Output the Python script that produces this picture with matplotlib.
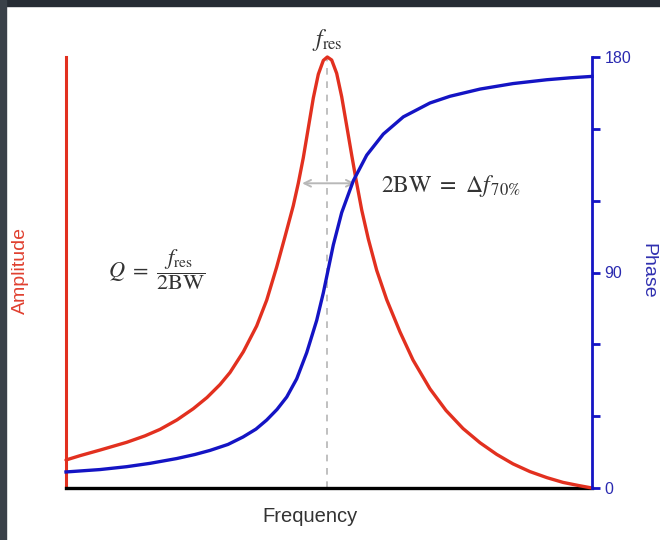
import matplotlib
matplotlib.use("Agg")
import matplotlib.pyplot as plt
from matplotlib.patches import Rectangle

plt.rcParams['font.family'] = ['Liberation Sans', 'DejaVu Sans']
plt.rcParams['mathtext.fontset'] = 'stix'

# Amplitude curve (normalised frequency 0..100, amplitude 0..1)
amp_freq = [0.0, 2.66, 6.46, 11.54, 15.02, 17.87, 21.10, 24.20, 26.81, 29.28, 31.18,
            33.71, 36.25, 38.16, 40.06, 41.63, 43.21, 44.16, 45.11, 46.06, 47.02,
            47.97, 48.92, 49.68, 50.51, 51.46, 52.41, 53.37, 54.32, 55.13, 56.22,
            57.47, 59.07, 60.97, 63.50, 65.97, 69.20, 72.24, 75.48, 78.71, 81.88,
            84.98, 88.21, 91.44, 94.49, 97.34, 100.0]
amp_vals = [0.065, 0.075, 0.088, 0.106, 0.121, 0.136, 0.158, 0.184, 0.210, 0.240, 0.268,
            0.316, 0.376, 0.436, 0.513, 0.583, 0.655, 0.707, 0.766, 0.835, 0.905,
            0.960, 0.992, 1.000, 0.993, 0.962, 0.908, 0.840, 0.772, 0.716, 0.645,
            0.578, 0.505, 0.437, 0.362, 0.297, 0.230, 0.180, 0.138, 0.105, 0.078,
            0.056, 0.038, 0.024, 0.013, 0.006, 0.0]

# Phase curve (degrees)
ph_freq = [0.0, 6.46, 11.54, 15.97, 21.05, 24.52, 27.38, 30.80, 33.65, 36.12, 38.16,
           40.11, 41.96, 43.86, 45.76, 47.66, 48.92, 49.68, 50.82, 52.41, 54.62,
           57.17, 60.32, 64.13, 69.20, 73.00, 78.71, 84.98, 91.39, 95.82, 100.0]
ph_vals = [6.7, 7.7, 8.9, 10.3, 12.3, 14.0, 15.7, 18.2, 21.3, 24.6, 28.4,
           32.8, 38.0, 45.6, 56.5, 70.0, 81.5, 89.5, 101.5, 115.0, 128.3,
           139.0, 147.8, 155.0, 160.8, 163.6, 166.6, 168.9, 170.5, 171.3, 171.9]

f_res = 49.68
bw_left, bw_right, bw_level = 44.9, 54.9, 0.707
phase_ticks = [0, 90, 180]
phase_minor = [30, 60, 120, 150]

RED = '#e2301f'
BLUE = '#1414c4'

fig = plt.figure(figsize=(6.6, 5.4), dpi=100)
fig.patch.set_facecolor('white')
# dark frame of the screenshot
fig.patches.append(Rectangle((0, 1 - 6/540), 1, 6/540, transform=fig.transFigure,
                             color='#262c34', zorder=0))
fig.patches.append(Rectangle((0, 0), 6/660, 1, transform=fig.transFigure,
                             color='#3a4149', zorder=0))

ax = fig.add_axes([66/660, 1 - 488/540, (592 - 66)/660, (488 - 57)/540])
ax.set_xlim(0, 100)
ax.set_ylim(0, 1)
ax.plot(amp_freq, amp_vals, color=RED, lw=2.4, solid_joinstyle='round',
        solid_capstyle='round', zorder=3, clip_on=False)
ax.plot([f_res, f_res], [0, 1], color='#b5b5b5', lw=1.2, ls=(0, (4, 4)), zorder=1)
ax.annotate('', xy=(bw_right, bw_level), xytext=(bw_left, bw_level),
            arrowprops=dict(arrowstyle='<->', color='#b8b8b8', lw=1.4,
                            shrinkA=0, shrinkB=0, mutation_scale=12), zorder=2)

for s in ['top', 'right']:
    ax.spines[s].set_visible(False)
ax.spines['left'].set_color(RED)
ax.spines['left'].set_linewidth(2.2)
ax.spines['bottom'].set_color('black')
ax.spines['bottom'].set_linewidth(2.4)
ax.set_xticks([])
ax.set_yticks([])
ax.patch.set_alpha(0)

ax2 = ax.twinx()
ax2.set_ylim(0, 180)
ax2.plot(ph_freq, ph_vals, color=BLUE, lw=2.4, solid_joinstyle='round', zorder=3, clip_on=False)
for s in ['top', 'left', 'bottom']:
    ax2.spines[s].set_visible(False)
ax2.spines['right'].set_color(BLUE)
ax2.spines['right'].set_linewidth(2.0)
ax2.set_yticks(phase_ticks)
ax2.set_yticks(phase_minor, minor=True)
ax2.tick_params(axis='y', which='both', direction='out', length=6, width=2,
                color=BLUE, labelcolor='#2a2ab0', labelsize=11.5, pad=3)
ax2.set_yticklabels([str(t) for t in phase_ticks])

fig.text(648/660, 1 - 271/540, 'Phase', rotation=270, color='#3030b0',
         fontsize=14, ha='center', va='center')
fig.text(20/660, 1 - 270/540, 'Amplitude', rotation=90, color='#e04030',
         fontsize=14, ha='center', va='center')
fig.text(310/660, 1 - 517/540, 'Frequency', color='#333333',
         fontsize=14.5, ha='center', va='center')

fig.text(327/660, 1 - 40/540, r'$f_{\mathrm{res}}$', color='#333333',
         fontsize=17, ha='center', va='center')
fig.text(381/660, 1 - 186/540, r'$2\mathrm{BW}\ =\ \Delta f_{\,70\%}$', color='#333333',
         fontsize=17, ha='left', va='center')
fig.text(108/660, 1 - 270/540, r'$Q\ =\ \dfrac{f_{\mathrm{res}}}{2\mathrm{BW}}$', color='#333333',
         fontsize=16, ha='left', va='center')

fig.savefig('out.png', dpi=100, facecolor=fig.get_facecolor())
